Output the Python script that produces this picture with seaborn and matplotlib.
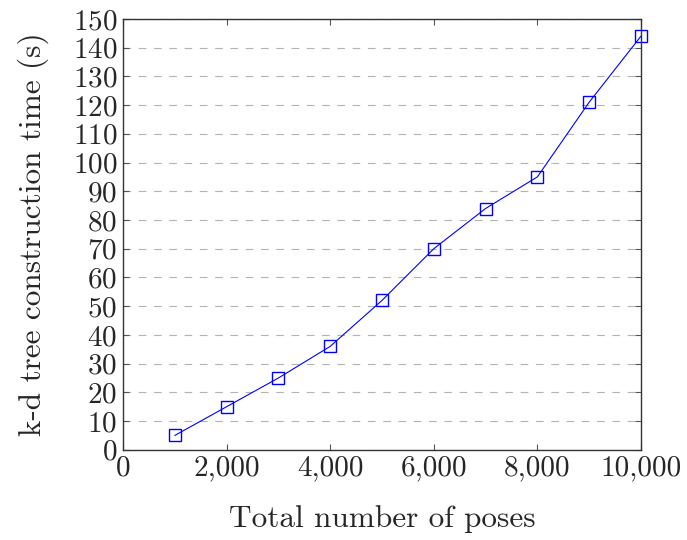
import matplotlib
matplotlib.use("Agg")
import matplotlib.pyplot as plt
import matplotlib.ticker as mticker
import seaborn as sns
import pandas as pd

poses = [1000, 2000, 3000, 4000, 5000, 6000, 7000, 8000, 9000, 10000]
times = [5, 15, 25, 36, 52, 70, 84, 95, 121, 144]

sns.set_style("ticks")
plt.rcParams['font.family'] = ['cmr10', 'DejaVu Serif']
plt.rcParams['axes.formatter.use_mathtext'] = True
plt.rcParams['lines.scale_dashes'] = False

df = pd.DataFrame({"poses": poses, "time": times})

fig = plt.figure(figsize=(6.87, 5.40), dpi=100)
ax = fig.add_axes([0.179, 0.167, 0.754, 0.798])

ax.set_axisbelow(True)
ax.yaxis.grid(True, color='#b3b3b3', linestyle=(0, (5.5, 5.5)), linewidth=0.8)
ax.xaxis.grid(False)

sns.lineplot(data=df, x="poses", y="time", ax=ax, color=(0, 0, 1),
             linewidth=0.8, marker='s', markersize=8.5,
             markerfacecolor='none', markeredgecolor=(0, 0, 1),
             markeredgewidth=1.0, clip_on=False)

ax.set_xlim(0, 10000)
ax.set_ylim(0, 150)
ax.set_xticks(range(0, 10001, 2000))
ax.set_yticks(range(0, 151, 10))
ax.xaxis.set_major_formatter(mticker.FuncFormatter(lambda v, p: f"{int(v):,}"))

ax.tick_params(direction='in', length=4.5, width=0.8, color='#555555',
               top=True, right=True, labelsize=21, pad=4)
for s in ax.spines.values():
    s.set_color('#333333')
    s.set_linewidth(1.0)

ax.set_xlabel("Total number of poses", fontsize=22.5, labelpad=17)
ax.set_ylabel("k-d tree construction time (s)", fontsize=22.5, labelpad=17)

fig.savefig("out.png", dpi=100)
